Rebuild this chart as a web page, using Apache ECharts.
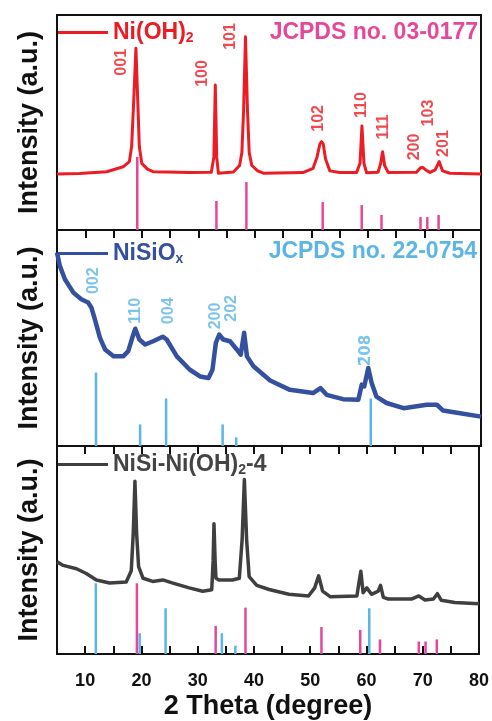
<!DOCTYPE html>
<html>
<head>
<meta charset="utf-8">
<script src="https://cdn.jsdelivr.net/npm/echarts@6/dist/echarts.min.js"></script>
<style>
  html, body { margin: 0; padding: 0; background: #fff; }
  #chart { width: 492px; height: 721px; }
</style>
</head>
<body>
<div id="chart"></div>
<script>
// measured curves, [2theta, intensity a.u.] per panel (0-100 scale)
const niohCurve = [[5,26.0],[9,26.3],[13.8,27.1],[16.7,29.4],[17.8,31.8],[18.2,38.8],[18.6,62],[18.96,84.5],[19.26,62],[19.56,38.8],[20.0,31],[21.0,28.3],[22.0,27.1],[28.5,26.7],[32.3,26.9],[32.75,34],[33.0,67.4],[33.25,34],[33.55,26.4],[36.2,27],[37.3,30],[37.7,36],[38.0,55],[38.34,89.9],[38.7,55],[39.0,36],[39.46,30],[40.5,27.5],[41.5,26.4],[48.5,26.7],[50.3,28.7],[51.0,34],[51.5,40],[51.8,41.1],[52.1,40],[52.5,33],[53.27,27.5],[55,26.7],[58.0,26.7],[58.6,31],[58.94,48.4],[59.3,31],[59.77,26.6],[61.8,26.9],[62.25,31],[62.6,36.4],[62.95,30],[63.6,26.7],[68.6,26.9],[69.3,29],[69.7,29.1],[70.4,27.6],[71.0,26.8],[71.9,28],[72.6,31.8],[73.2,27.5],[74.5,26.4],[80,26]];
const nisioCurve = [[5,89.6],[5.5,83.4],[6.4,77.2],[7.9,71],[9.3,67.9],[10.5,66.4],[11.1,64],[11.7,58.6],[12.6,50.1],[13.5,44.7],[15.0,41.5],[16.7,41.5],[17.6,43.9],[18.4,50.8],[18.85,54.3],[19.56,49.3],[20.6,47],[22.0,48.5],[23.7,50.6],[24.4,49.3],[26.2,41.5],[28.5,35.3],[30.3,32.2],[31.8,31.5],[32.5,35.3],[33.1,47.8],[33.7,51.6],[34.4,49.3],[35.6,48.5],[36.8,44.7],[37.5,42.3],[38.1,52.4],[38.6,41.5],[39.75,36.9],[42.7,30.3],[46.2,26],[50.3,24.5],[51.6,26.8],[52.7,23.7],[55.6,21.7],[58.3,21.4],[58.9,28.4],[59.35,27.6],[60.06,36.1],[60.66,29.2],[61.5,22.9],[63.3,19.9],[66.3,17.5],[70.4,19.1],[72.2,19.1],[73.3,16.4],[76.3,15.2],[80,13.6]];
const compCurve = [[5,44.4],[6.1,42.6],[8.45,41],[10.2,38.7],[12.0,35.6],[14.35,34.1],[17.3,34.6],[18.2,40],[18.55,58],[18.85,83],[19.15,58],[19.5,42],[20.3,36.4],[22.0,34.9],[23.8,35.6],[25.6,34.1],[28.5,31.8],[30.9,30.2],[32.5,30.9],[32.75,45],[32.9,62.6],[33.1,45],[33.25,36.4],[33.8,35.6],[36.2,35.6],[37.4,36.4],[37.9,55],[38.3,83.9],[38.7,55],[39.15,37.2],[40.5,33],[42.7,31],[46.2,28.7],[49.7,27.9],[50.8,31.8],[51.5,37.6],[52.2,30.2],[53.6,27.5],[58.3,27.9],[58.7,34.9],[59.0,39.8],[59.4,29.5],[60.06,31.8],[60.9,28.7],[62.1,30.2],[62.5,33],[63.0,27.2],[63.9,26.4],[68.0,26.4],[69.3,27.9],[70.4,26],[71.9,26.4],[72.6,29],[73.3,25.8],[75.7,24.8],[80,24.2]];

// JCPDS reference sticks
const niohRefPos = [19.2, 33.2, 38.5, 52.0, 58.9, 62.4, 69.3, 70.5, 72.5];
const niohRefInt = [34, 13.5, 22.3, 13, 11.6, 7, 6, 6, 7];
const nisioRefPos = [11.9, 19.7, 24.3, 34.3, 36.7, 60.5];
const nisioRefInt = [34, 10, 22, 10, 4, 22];

// hkl labels: [2theta, height] and text
const niohHklAt = [[16.5,78],[30.7,72.8],[35.7,90],[51.3,51.9],[58.9,58.1],[62.75,47.9],[68.3,38.6],[70.7,54.4],[73.4,40.2]];
const niohHkl = ['001','100','101','102','110','111','200','103','201'];
const nisioHklAt = [[11.47,76.5],[18.9,62.6],[24.75,62.6],[33.1,60.2],[35.8,63.7],[59.65,44.2]];
const nisioHkl = ['002','110','004','200','202','2\u030408'];

const xTicks = [10, 20, 30, 40, 50, 60, 70, 80];

const FONT = 'Liberation Sans, Arial, Helvetica, sans-serif';
const RED = '#ec1c24', PINK = '#e6479b', NAVY = '#34509f', SKY = '#5bb5e6', GRAY = '#3f3f3f';

let myChart = echarts.init(document.getElementById('chart'));

const grids = [
  { left: 57, right: 11, top: 15, height: 215 },
  { left: 57, right: 11, top: 230, height: 216 },
  { left: 57, right: 11, top: 446, height: 216 }
].map(g => Object.assign(g, { show: true, borderColor: '#111', borderWidth: 2 }));

function frame() {
  return { show: true, onZero: false, lineStyle: { color: '#111', width: 2 } };
}
function tickIn() {
  return { show: true, inside: true, length: 8, lineStyle: { color: '#111', width: 2 } };
}

function xAx(grid, pos, opts) {
  return Object.assign({
    type: 'value', gridIndex: grid, position: pos, min: 5, max: 80, interval: 5,
    axisLine: frame(),
    axisTick: { show: false },
    axisLabel: { show: false },
    splitLine: { show: false }
  }, opts);
}

const xAxes = [
  xAx(0, 'bottom'),
  xAx(1, 'bottom'),
  xAx(2, 'bottom', {
    axisTick: tickIn(),
    axisLabel: {
      show: true, margin: 18, color: '#111', fontSize: 18, fontWeight: 'bold', fontFamily: FONT,
      formatter: v => xTicks.indexOf(v) >= 0 ? String(v) : ''
    },
    name: '2 Theta (degree)', nameLocation: 'middle', nameGap: 39,
    nameTextStyle: { color: '#111', fontSize: 27, fontWeight: 'bold', fontFamily: FONT }
  }),
  xAx(1, 'top', { axisTick: tickIn() }),
  xAx(2, 'top', { axisTick: tickIn() })
];

const yAxes = [0, 1, 2].map(i => ({
  type: 'value', gridIndex: i, min: 0, max: 100,
  axisLine: frame(), axisTick: { show: false }, axisLabel: { show: false }, splitLine: { show: false },
  name: 'Intensity (a.u.)', nameLocation: 'middle', nameGap: 14,
  nameTextStyle: { color: '#111', fontSize: 27, fontWeight: 'bold', fontFamily: FONT }
}));

function curve(name, data, axis, color, width) {
  return {
    name: name, type: 'line', xAxisIndex: axis, yAxisIndex: axis,
    data: data, showSymbol: false, symbol: 'none', color: color,
    lineStyle: { color: color, width: width, join: 'round' }, z: 3
  };
}

function sticks(pos, intens, xi, yi, color) {
  return {
    type: 'custom', xAxisIndex: xi, yAxisIndex: yi,
    data: pos.map((p, i) => [p, intens[i]]),
    encode: { x: 0, y: 1 },
    renderItem: (params, api) => {
      const a = api.coord([api.value(0), 0]);
      const b = api.coord([api.value(0), api.value(1)]);
      return { type: 'line', shape: { x1: a[0], y1: a[1], x2: b[0], y2: b[1] },
               style: { stroke: color, lineWidth: 2.5 } };
    },
    z: 2
  };
}

function hkl(at, text, xi, yi, color) {
  return {
    type: 'scatter', xAxisIndex: xi, yAxisIndex: yi, symbolSize: 0, silent: true,
    data: at.map((p, i) => {
      const item = { value: p, name: text[i] };
      // combining macron needs a font that positions it
      if (text[i].indexOf('\u0304') >= 0) item.label = { fontFamily: 'DejaVu Sans', fontSize: 15 };
      return item;
    }),
    label: {
      show: true, position: 'inside', rotate: 90, formatter: '{b}',
      color: color, fontSize: 16, fontWeight: 'bold', fontFamily: FONT
    },
    z: 4
  };
}

function legendFor(name, top, color, fmt) {
  return {
    data: [name], left: 53, top: top, icon: 'rect', itemWidth: 50, itemHeight: 3,
    selectedMode: false, itemGap: 0,
    formatter: fmt,
    textStyle: {
      color: color, fontFamily: FONT, fontSize: 23, fontWeight: 'bold',
      rich: {
        a: { color: color, fontFamily: FONT, fontSize: 23, fontWeight: 'bold', lineHeight: 26 },
        s: { color: color, fontFamily: FONT, fontSize: 14, fontWeight: 'bold', lineHeight: 26, verticalAlign: 'bottom', padding: [10, 0, 0, 0] }
      }
    }
  };
}

let option = {
  backgroundColor: '#fff',
  animation: false,
  grid: grids,
  xAxis: xAxes,
  yAxis: yAxes,
  legend: [
    legendFor('Ni(OH)2', 16, RED, () => '{a|Ni(OH)}{s|2}'),
    legendFor('NiSiOx', 237, NAVY, () => '{a|NiSiO}{s|x}'),
    legendFor('NiSi-Ni(OH)2-4', 448, '#444', () => '{a|NiSi-Ni(OH)}{s|2}{a|-4}')
  ],
  title: [
    { text: 'JCPDS no. 03-0177', right: 9, top: 16,
      textStyle: { color: PINK, fontSize: 23, fontWeight: 'bold', fontFamily: FONT } },
    { text: 'JCPDS no. 22-0754', right: 10, top: 235,
      textStyle: { color: SKY, fontSize: 23, fontWeight: 'bold', fontFamily: FONT } }
  ],
  series: [
    curve('Ni(OH)2', niohCurve, 0, RED, 3),
    sticks(niohRefPos, niohRefInt, 0, 0, PINK),
    hkl(niohHklAt, niohHkl, 0, 0, RED),

    curve('NiSiOx', nisioCurve, 1, NAVY, 4.5),
    sticks(nisioRefPos, nisioRefInt, 1, 1, SKY),
    hkl(nisioHklAt, nisioHkl, 1, 1, SKY),

    curve('NiSi-Ni(OH)2-4', compCurve, 2, GRAY, 3.5),
    sticks(nisioRefPos, nisioRefInt, 2, 2, SKY),
    sticks(niohRefPos, niohRefInt, 2, 2, PINK)
  ]
};

myChart.setOption(option, true);
window.addEventListener('resize', () => {
  myChart.resize();
});
</script>
</body>
</html>
